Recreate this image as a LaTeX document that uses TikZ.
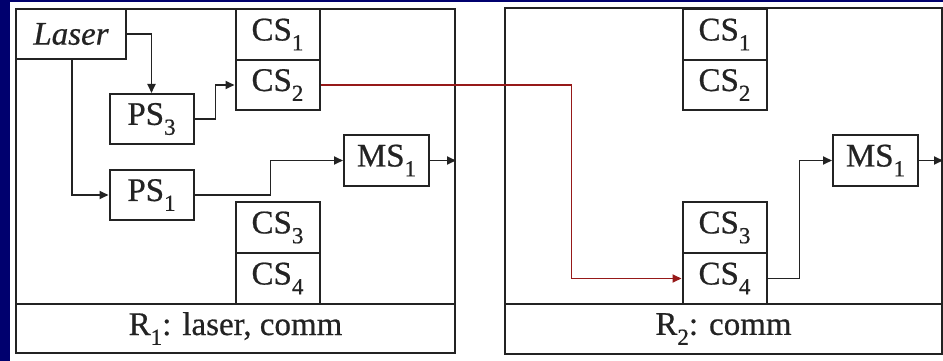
\documentclass[tikz,border=0pt]{standalone}
\usepackage{fontspec}
\setmainfont[FakeBold=0.6,AutoFakeBold=0.6]{Liberation Serif}
\usetikzlibrary{arrows.meta,calc}
\definecolor{navy}{RGB}{0,0,110}
\definecolor{ink}{RGB}{35,35,35}
\definecolor{redline}{RGB}{150,25,25}
\newcommand\lo[1]{\raisebox{-0.3em}{\fontsize{23}{23}\selectfont #1}}
\tikzset{
  box/.style={draw=ink, line width=2pt, minimum width=84pt, minimum height=50pt, inner sep=0pt, font=\fontsize{33}{38}\selectfont\bfseries, text=ink},
  frame/.style={draw=ink, line width=2pt, inner sep=0pt},
  conn/.style={draw=ink, line width=1.8pt, -{Triangle[length=9pt,width=8pt]}},
  redconn/.style={draw=redline, line width=1.8pt, -{Triangle[length=9pt,width=8pt]}}
}
\begin{document}
\begin{tikzpicture}[x=1pt,y=-1pt]
\useasboundingbox (0,0) rectangle (943,361);
\fill[navy] (0,0) rectangle (943,361);
\fill[white] (10,2) rectangle (943,361);
% frames
\node[frame, minimum width=439pt, minimum height=344pt] (F1) at (235.5,181) {};
\node[frame, minimum width=437pt, minimum height=346pt] (F2) at (723.5,181) {};
\node[frame, minimum width=439pt, minimum height=49pt, font=\fontsize{33}{38}\selectfont\bfseries, text=ink] (L1) at (235.5,328.5) {R\lo{1}: laser, comm};
\node[frame, minimum width=437pt, minimum height=50pt, font=\fontsize{33}{38}\selectfont\bfseries, text=ink] (L2) at (723.5,329) {R\lo{2}: comm};
% left panel
\node[box, minimum width=110pt] (Laser) at (71,34) {\itshape Laser};
\node[box, minimum height=51pt] (CS1L) at (277.5,34.5) {CS\lo{1}};
\node[box] (CS2L) at (277.5,85) {CS\lo{2}};
\node[box] (PS3) at (151.5,119) {PS\lo{3}};
\node[box] (PS1) at (151.5,195) {PS\lo{1}};
\node[box, minimum width=85pt, minimum height=51pt] (MS1L) at (386.5,160.5) {MS\lo{1}};
\node[box, minimum height=51pt] (CS3L) at (277.5,227.5) {CS\lo{3}};
\node[box, minimum height=51pt] (CS4L) at (277.5,278.5) {CS\lo{4}};
% right panel
\node[box, minimum height=51pt] (CS1R) at (724.5,34.5) {CS\lo{1}};
\node[box] (CS2R) at (724.5,85) {CS\lo{2}};
\node[box, minimum width=85pt, minimum height=51pt] (MS1R) at (875.5,160.5) {MS\lo{1}};
\node[box, minimum height=51pt] (CS3R) at (724.5,227.5) {CS\lo{3}};
\node[box, minimum height=51pt] (CS4R) at (724.5,278.5) {CS\lo{4}};
% connectors
\draw[conn] (Laser.east) -| (PS3.north);
\draw[conn] ([xshift=1pt]Laser.south) |- (PS1.west);
\draw[conn] (PS3.east) -- ++(21,0) |- (CS2L.west);
\draw[conn] (PS1.east) -- ++(76,0) |- (MS1L.west);
\draw[conn] (MS1L.east) -- (MS1L.east -| F1.east);
\draw[redconn] (CS2L.east) -- ++(251,0) |- (CS4R.west);
\draw[conn] (CS4R.east) -- ++(32,0) |- (MS1R.west);
\draw[conn] (MS1R.east) -- (MS1R.east -| F2.east);
\end{tikzpicture}
\end{document}
